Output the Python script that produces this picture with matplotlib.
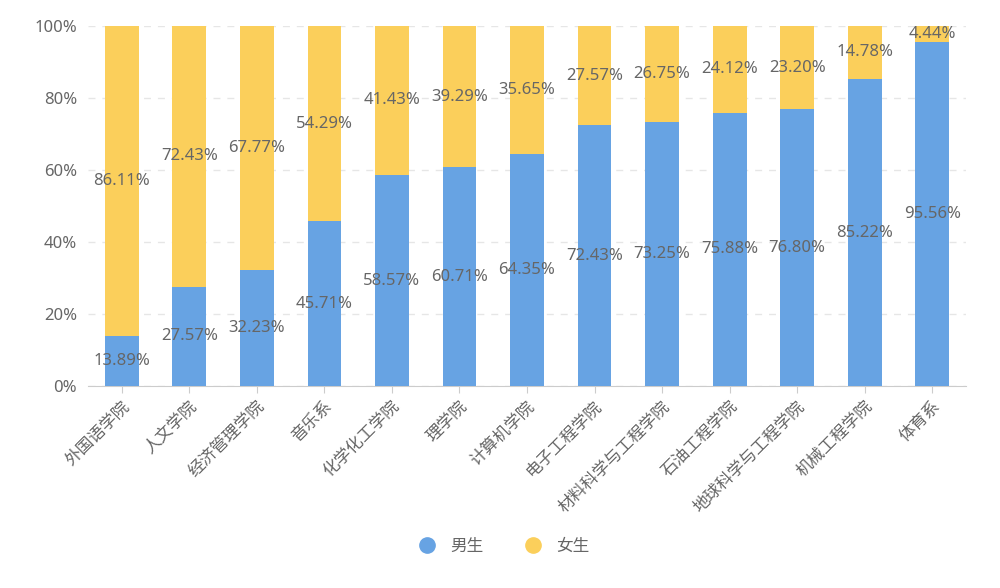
import numpy as np
import matplotlib
matplotlib.use("Agg")
import matplotlib.pyplot as plt
from matplotlib.lines import Line2D

plt.rcParams['font.family'] = ['Noto Sans', 'Noto Sans CJK SC', 'DejaVu Sans']

# 各学院男女比例 (%)
colleges = ['外国语学院', '人文学院', '经济管理学院', '音乐系', '化学化工学院', '理学院',
            '计算机学院', '电子工程学院', '材料科学与工程学院', '石油工程学院',
            '地球科学与工程学院', '机械工程学院', '体育系']
male = [13.89, 27.57, 32.23, 45.71, 58.57, 60.71, 64.35, 72.43, 73.25, 75.88, 76.80, 85.22, 95.56]
female = [86.11, 72.43, 67.77, 54.29, 41.43, 39.29, 35.65, 27.57, 26.75, 24.12, 23.20, 14.78, 4.44]

blue = '#67a3e3'
yellow = '#fbcf5b'
text_gray = '#666666'

fig = plt.figure(figsize=(10, 5.88), dpi=100)
ax = fig.add_axes([0.088, 0.3435, 0.878, 0.6125])

x = np.arange(len(colleges))
ax.bar(x, male, width=0.5, color=blue, zorder=3)
ax.bar(x, female, width=0.5, bottom=male, color=yellow, zorder=3)

# 数值标签放在各段中间
for i in range(len(colleges)):
    ax.text(x[i], male[i] / 2, f'{male[i]:.2f}%', ha='center', va='center',
            fontsize=12, color=text_gray, zorder=4)
    ax.text(x[i], male[i] + female[i] / 2, f'{female[i]:.2f}%', ha='center', va='center',
            fontsize=12, color=text_gray, zorder=4)

ax.set_xlim(-0.5, len(colleges) - 0.5)
ax.set_ylim(0, 100)
ax.set_yticks([0, 20, 40, 60, 80, 100])
ax.set_yticklabels([f'{v}%' for v in [0, 20, 40, 60, 80, 100]], fontsize=12, color=text_gray)
ax.set_xticks(x)
ax.set_xticklabels(colleges, rotation=45, ha='right', rotation_mode='anchor',
                   fontsize=12, color=text_gray)

ax.yaxis.grid(True, linestyle=(0, (5, 5)), color='#e6e6e6', linewidth=1, zorder=0)
for s in ['top', 'right', 'left']:
    ax.spines[s].set_visible(False)
ax.spines['bottom'].set_color('#cccccc')
ax.tick_params(axis='y', length=0, pad=8)
ax.tick_params(axis='x', length=5, color='#cccccc', pad=4)

handles = [Line2D([], [], marker='o', linestyle='', markersize=11, color=blue, label='男生'),
           Line2D([], [], marker='o', linestyle='', markersize=11, color=yellow, label='女生')]
fig.legend(handles=handles, loc='center', bbox_to_anchor=(0.5, 0.07), ncol=2, frameon=False,
           fontsize=12, labelcolor=text_gray, handletextpad=0.4, columnspacing=2.0)

fig.savefig('out.png', dpi=100, facecolor='white')
